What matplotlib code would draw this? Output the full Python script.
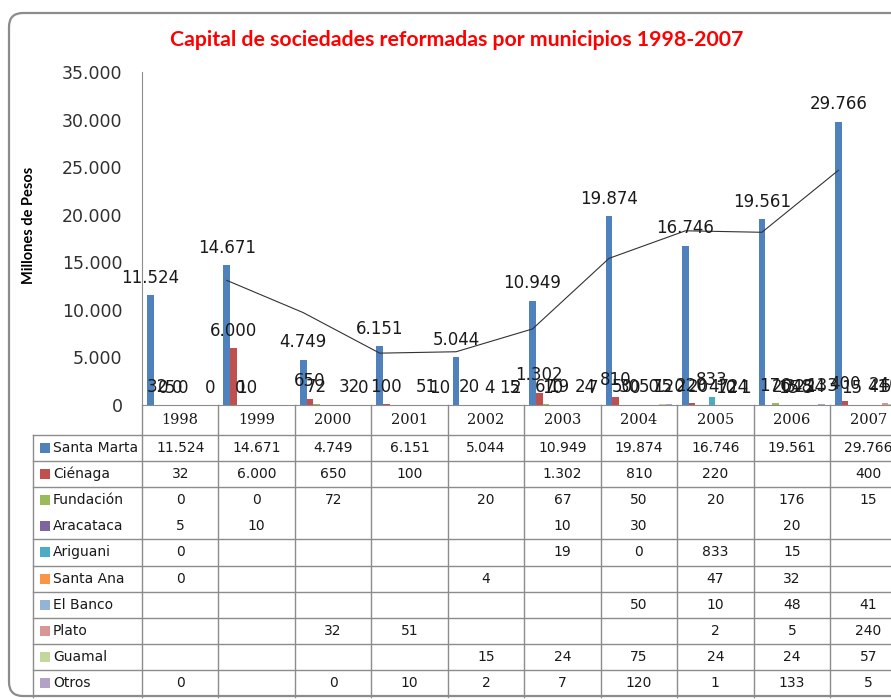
import numpy as np
import matplotlib.pyplot as plt
from matplotlib.patches import FancyBboxPatch, Rectangle

# datos: capital de sociedades reformadas (millones de pesos)
years = ["1998", "1999", "2000", "2001", "2002", "2003", "2004", "2005", "2006", "2007"]
municipios = ["Santa Marta", "Ciénaga", "Fundación", "Aracataca", "Ariguani",
              "Santa Ana", "El Banco", "Plato", "Guamal", "Otros"]
colores = ["#4F81BD", "#C0504D", "#9BBB59", "#8064A2", "#4BACC6",
           "#F79646", "#95B3D7", "#D99694", "#C3D69B", "#B3A2C7"]

santa_marta = [11524, 14671, 4749, 6151, 5044, 10949, 19874, 16746, 19561, 29766]
cienaga = [32, 6000, 650, 100, None, 1302, 810, 220, None, 400]
fundacion = [0, 0, 72, None, 20, 67, 50, 20, 176, 15]
aracataca = [5, 10, None, None, None, 10, 30, None, 20, None]
ariguani = [0, None, None, None, None, 19, 0, 833, 15, None]
santa_ana = [0, None, None, None, 4, None, None, 47, 32, None]
el_banco = [None, None, None, None, None, None, 50, 10, 48, 41]
plato = [None, None, 32, 51, None, None, None, 2, 5, 240]
guamal = [None, None, None, None, 15, 24, 75, 24, 24, 57]
otros = [0, None, 0, 10, 2, 7, 120, 1, 133, 5]

series = [santa_marta, cienaga, fundacion, aracataca, ariguani,
          santa_ana, el_banco, plato, guamal, otros]


def fmt(v):
    return f"{v:,.0f}".replace(",", ".")


W, H = 891, 700
fig = plt.figure(figsize=(W / 100, H / 100), dpi=100)

# capa de fondo en pixeles (marco + tabla)
ov = fig.add_axes([0, 0, 1, 1])
ov.set_xlim(0, W)
ov.set_ylim(H, 0)
ov.axis("off")
ov.set_zorder(0)

ov.add_patch(FancyBboxPatch((9, 13), 900, 683, boxstyle="round,pad=0,rounding_size=14",
                            fc="white", ec="#8c8c8c", lw=1.6))

fig.text(457 / W, 1 - 40 / H, "Capital de sociedades reformadas por municipios 1998-2007",
         color="#ff0000", fontsize=15.3, fontweight="bold",
         family=["Lato", "DejaVu Sans"], ha="center", va="center")

# grafico de barras
x0, colw = 142, 76.45
ax = fig.add_axes([x0 / W, 1 - 405 / H, 10 * colw / W, 333 / H])
ax.set_zorder(1)
ax.patch.set_visible(False)
ax.set_xlim(0, 10)
ax.set_ylim(0, 35000)
ax.set_yticks(np.arange(0, 35001, 5000))
ax.set_yticklabels([fmt(v) for v in np.arange(0, 35001, 5000)])
ax.set_xticks([])
ax.tick_params(axis="y", length=0, pad=14, labelsize=12.5, labelcolor="#303030")
for s in ["top", "right"]:
    ax.spines[s].set_visible(False)
ax.spines["left"].set_color("#8c8c8c")
ax.spines["bottom"].set_color("#8c8c8c")
ax.set_ylabel("Millones de Pesos", fontsize=10.5, fontweight="bold",
              family=["Lato", "DejaVu Sans"])
ax.yaxis.set_label_coords(-106 / (10 * colw), 0.54)

bw = 1 / 11.5
for j, (vals, col) in enumerate(zip(series, colores)):
    for i, v in enumerate(vals):
        if v is None:
            continue
        xc = i + 0.75 * bw + (j + 0.5) * bw
        ax.bar(xc, v, width=bw, color=col, linewidth=0)
        ax.annotate(fmt(v), (xc, v), xytext=(0, 6), textcoords="offset points",
                    ha="center", va="bottom", fontsize=12, color="#1a1a1a",
                    annotation_clip=False)

# media movil de 2 periodos (Santa Marta)
sm = np.array(santa_marta, dtype=float)
mm = (sm[1:] + sm[:-1]) / 2
xs = np.arange(1, 10) + 0.75 * bw + 0.5 * bw
ax.plot(xs, mm, color="#333333", lw=0.8)

# tabla de datos
grid = "#8c8c8c"
top, rowh = 434.5, 26.2
right = x0 + 10 * colw
for i in range(11):
    ov.plot([x0 + i * colw] * 2, [405, 697], color=grid, lw=1)
ov.plot([33, 33], [top, 697], color=grid, lw=1)
for k in range(10):
    if k == 3:
        continue  # la linea entre Fundación y Aracataca no aparece
    y = top + k * rowh
    ov.plot([33, right], [y, y], color=grid, lw=1)

for i, yr in enumerate(years):
    ov.text(x0 + (i + 0.5) * colw, 420, yr, ha="center", va="center",
            fontsize=10.5, family="DejaVu Serif", color="#1a1a1a")

for k, (name, col, vals) in enumerate(zip(municipios, colores, series)):
    yc = top + (k + 0.5) * rowh
    ov.add_patch(Rectangle((40, yc - 5), 10, 10, fc=col, ec="none"))
    ov.text(53, yc, name, ha="left", va="center", fontsize=10, color="#1a1a1a")
    for i, v in enumerate(vals):
        if v is None:
            continue
        ov.text(x0 + (i + 0.5) * colw, yc, fmt(v), ha="center", va="center",
                fontsize=10, color="#1a1a1a")

fig.savefig("out.png", dpi=100)
